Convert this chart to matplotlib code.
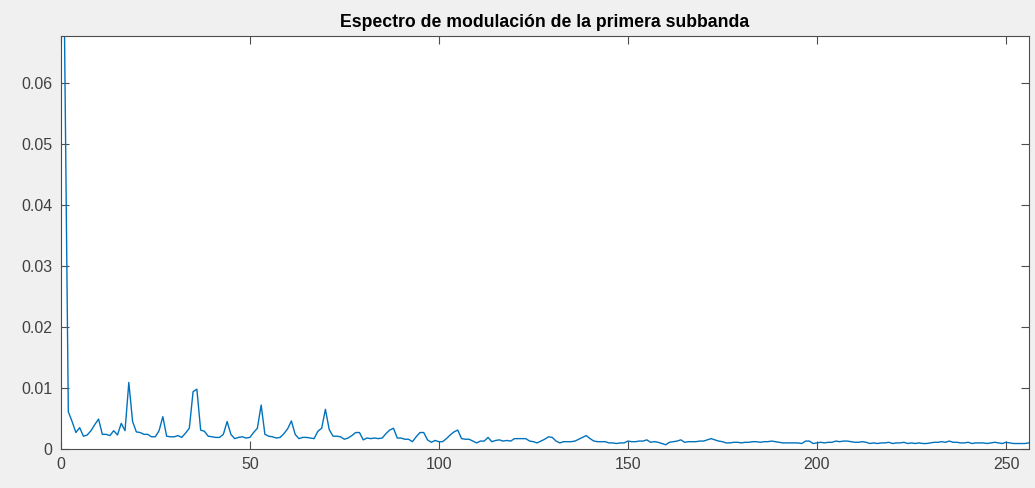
"""Espectro de modulación de la primera subbanda (MATLAB-style line plot)."""

import matplotlib

matplotlib.use("Agg")
import matplotlib.pyplot as plt
import numpy as np
from matplotlib.ticker import FixedLocator, FuncFormatter

# modulation spectrum magnitude, bins 1..256
spec_1_47 = [
    0.0677, 0.0061, 0.0045, 0.0027, 0.0035, 0.0021, 0.0023, 0.0030, 0.0040, 0.0049,
    0.0024, 0.0024, 0.0022, 0.0030, 0.0023, 0.0042, 0.0030, 0.0109, 0.0045, 0.0028,
    0.0027, 0.0024, 0.0024, 0.0020, 0.0020, 0.0030, 0.0053, 0.0021, 0.0020, 0.0020,
    0.0022, 0.0019, 0.0026, 0.0034, 0.0094, 0.0098, 0.0031, 0.0029, 0.0021, 0.0020,
    0.0019, 0.0019, 0.0024, 0.0045, 0.0024, 0.0017, 0.0019,
]
spec_48_92 = [
    0.0020, 0.0018, 0.0019, 0.0027, 0.0034, 0.0072, 0.0024, 0.0021, 0.0020, 0.0018,
    0.0019, 0.0025, 0.0033, 0.0046, 0.0024, 0.0017, 0.0019, 0.0019, 0.0018, 0.0017,
    0.0029, 0.0034, 0.0065, 0.0032, 0.0021, 0.0021, 0.0020, 0.0016, 0.0018, 0.0022,
    0.0027, 0.0027, 0.0015, 0.0018, 0.0017, 0.0018, 0.0017, 0.0018, 0.0025, 0.0031,
    0.0034, 0.0018, 0.0018, 0.0016, 0.0016,
]
spec_93_147 = [
    0.0012, 0.0020, 0.0027, 0.0027, 0.0015, 0.0011, 0.0014, 0.0012, 0.0012, 0.0017,
    0.0023, 0.0028, 0.0031, 0.0017, 0.0016, 0.0016, 0.0013, 0.0010, 0.0013, 0.0013,
    0.0019, 0.0012, 0.0014, 0.0015, 0.0013, 0.0014, 0.0013, 0.0017, 0.0017, 0.0017,
    0.0017, 0.0013, 0.0012, 0.0010, 0.0013, 0.0016, 0.0020, 0.0019, 0.0013, 0.0010,
    0.0012, 0.0012, 0.0012, 0.0013, 0.0016, 0.0019, 0.0022, 0.0017, 0.0013, 0.0012,
    0.0012, 0.0012, 0.0010, 0.0010, 0.0009,
]
spec_148_201 = [
    0.0010, 0.0010, 0.0013, 0.0012, 0.0012, 0.0013, 0.0013, 0.0015, 0.0011, 0.0012,
    0.0011, 0.0009, 0.0007, 0.0011, 0.0012, 0.0013, 0.0015, 0.0011, 0.0012, 0.0012,
    0.0012, 0.0013, 0.0013, 0.0015, 0.0017, 0.0015, 0.0013, 0.0012, 0.0010, 0.0010,
    0.0011, 0.0011, 0.0010, 0.0011, 0.0011, 0.0012, 0.0012, 0.0011, 0.0012, 0.0012,
    0.0013, 0.0012, 0.0011, 0.0010, 0.0010, 0.0010, 0.0010, 0.0010, 0.0009, 0.0013,
    0.0013, 0.0009, 0.0010, 0.0011,
]
spec_202_256 = [
    0.0010, 0.0011, 0.0011, 0.0013, 0.0012, 0.0013, 0.0013, 0.0012, 0.0011, 0.0011,
    0.0012, 0.0011, 0.0009, 0.0010, 0.0009, 0.0010, 0.0010, 0.0011, 0.0009, 0.0010,
    0.0010, 0.0011, 0.0009, 0.0010, 0.0009, 0.0010, 0.0009, 0.0009, 0.0010, 0.0011,
    0.0011, 0.0012, 0.0011, 0.0013, 0.0011, 0.0011, 0.0010, 0.0010, 0.0011, 0.0009,
    0.0010, 0.0010, 0.0010, 0.0009, 0.0010, 0.0011, 0.0010, 0.0009, 0.0011, 0.0010,
    0.0009, 0.0009, 0.0009, 0.0009, 0.0010,
]

spectrum = np.array(spec_1_47 + spec_48_92 + spec_93_147 + spec_148_201 + spec_202_256)
bins = np.arange(1, len(spectrum) + 1)

x_ticks = [0, 50, 100, 150, 200, 250]
y_ticks = [0, 0.01, 0.02, 0.03, 0.04, 0.05, 0.06]
title = "Espectro de modulación de la primera subbanda"


def main() -> None:
    plt.rcParams["font.family"] = ["Liberation Sans", "DejaVu Sans"]
    fig = plt.figure(figsize=(10.35, 4.88), dpi=100, facecolor="#f0f0f0")
    ax = fig.add_axes([0.0587, 0.0799, 0.9352, 0.8469])

    ax.plot(bins, spectrum, color="#0072BD", lw=1.0)
    ax.set_xlim(0, 256)
    ax.set_ylim(0, spectrum.max())

    ax.xaxis.set_major_locator(FixedLocator(x_ticks))
    ax.yaxis.set_major_locator(FixedLocator(y_ticks))
    ax.yaxis.set_major_formatter(FuncFormatter(lambda v, _: "0" if v == 0 else f"{v:g}"))
    ax.tick_params(direction="in", length=6, width=0.8, color="#4d4d4d",
                   labelcolor="#404040", labelsize=11.5, pad=6,
                   top=True, right=True)
    for spine in ax.spines.values():
        spine.set_color("#4d4d4d")
        spine.set_linewidth(0.8)

    ax.set_title(title, fontsize=12.7, fontweight="bold", color="black", pad=6)

    fig.savefig("out.png", dpi=100, facecolor=fig.get_facecolor())


if __name__ == "__main__":
    main()
